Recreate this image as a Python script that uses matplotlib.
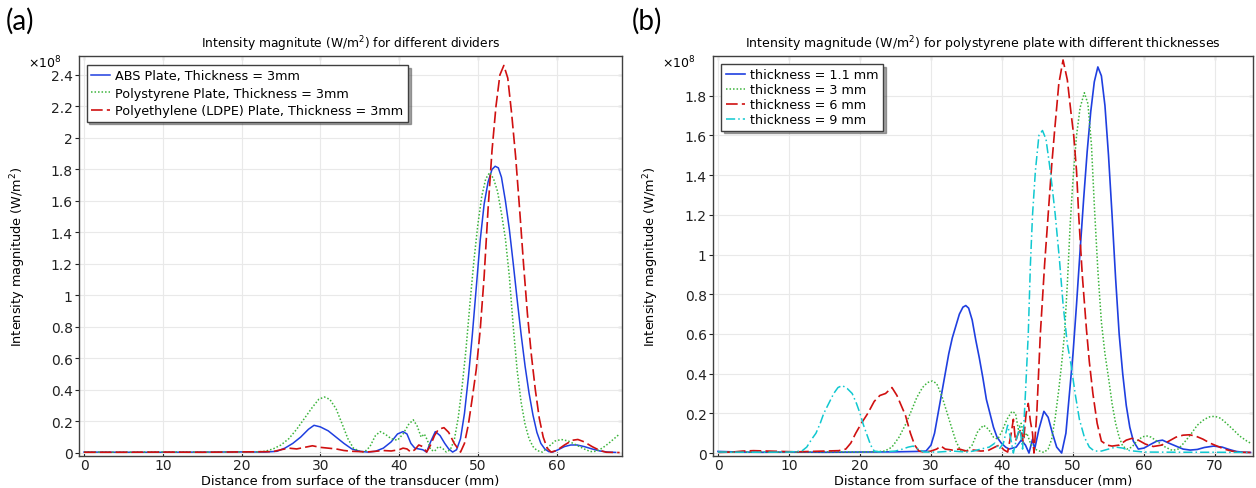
import matplotlib
matplotlib.use("Agg")
import matplotlib.pyplot as plt
from matplotlib.ticker import FormatStrFormatter

# ── Panel (a): different dividers, 3 mm plates (values in 1e8 W/m^2) ─────────
abs_x = [0, 5, 10, 15, 20, 23, 24.5, 25.5, 26.5, 27.5, 28.5, 29.2, 30, 31, 32, 33, 34, 35, 36, 37,
         38, 39, 39.8, 40.5, 41, 41.5, 42, 42.5, 43, 43.5, 44, 44.6, 45.2, 45.8, 46.3, 46.8, 47.3,
         47.8, 48.3, 48.8, 49.3, 49.8, 50.3, 50.8, 51.3, 51.8, 52.2, 52.6, 53.0, 53.5, 54.0, 54.5,
         55.0, 55.5, 56.0, 56.5, 57.0, 57.5, 58.0, 58.5, 59.0, 59.5, 60.2, 61.0, 61.8, 62.6, 63.5,
         64.5, 65.5, 66.5, 67.5]
abs_y = [0.005, 0.004, 0.004, 0.005, 0.006, 0.005, 0.01, 0.03, 0.06, 0.10, 0.15, 0.175, 0.165, 0.14,
         0.10, 0.06, 0.025, 0.01, 0.005, 0.01, 0.03, 0.07, 0.12, 0.135, 0.12, 0.06, 0.03, 0.025, 0.02,
         0.005, 0.07, 0.135, 0.11, 0.06, 0.025, 0.005, 0.02, 0.09, 0.25, 0.48, 0.75, 1.05, 1.35, 1.58,
         1.72, 1.80, 1.82, 1.81, 1.75, 1.6, 1.42, 1.2, 0.97, 0.75, 0.55, 0.38, 0.24, 0.13, 0.06, 0.025,
         0.008, 0.005, 0.02, 0.04, 0.05, 0.05, 0.04, 0.025, 0.012, 0.005, 0.003]

ps_x = [0, 5, 10, 15, 20, 22, 23, 24, 25, 26, 27, 28, 29, 29.8, 30.5, 31.2, 32, 32.8, 33.5, 34.2, 35,
        35.6, 36.3, 37, 37.6, 38.2, 39, 39.8, 40.5, 41.2, 41.8, 42.3, 42.8, 43.2, 43.6, 44, 44.5, 45,
        45.5, 46, 46.5, 47, 47.5, 48, 48.5, 49, 49.5, 50, 50.5, 51, 51.5, 52, 52.5, 53, 53.5, 54, 54.5,
        55, 55.5, 56, 56.5, 57, 57.5, 58.2, 59, 59.8, 60.6, 61.5, 62.5, 63.5, 64.3, 65, 65.8, 66.6,
        67.3, 68]
ps_y = [0.005, 0.004, 0.006, 0.005, 0.006, 0.006, 0.01, 0.025, 0.05, 0.09, 0.15, 0.22, 0.29, 0.34,
        0.355, 0.34, 0.28, 0.18, 0.09, 0.03, 0.01, 0.005, 0.04, 0.11, 0.135, 0.12, 0.09, 0.08, 0.12,
        0.18, 0.21, 0.17, 0.1, 0.12, 0.08, 0.02, 0.01, 0.04, 0.03, 0.005, 0.02, 0.08, 0.22, 0.42, 0.66,
        0.95, 1.22, 1.45, 1.63, 1.74, 1.78, 1.74, 1.66, 1.52, 1.36, 1.12, 0.8, 0.52, 0.32, 0.18, 0.09,
        0.04, 0.015, 0.005, 0.04, 0.075, 0.085, 0.075, 0.05, 0.025, 0.008, 0.01, 0.03, 0.06, 0.09,
        0.12]

pe_x = [0, 5, 10, 15, 20, 24, 25, 26, 27, 28, 29, 30, 31, 32, 33, 34, 35, 36, 37, 38, 39, 40, 40.5,
        41, 41.5, 42, 42.5, 43, 43.5, 44, 44.5, 45, 45.7, 46.3, 47, 47.8, 48.3, 48.8, 49.3, 49.8,
        50.3, 50.8, 51.3, 51.8, 52.3, 52.8, 53.3, 53.8, 54.3, 54.8, 55.3, 55.8, 56.3, 56.8, 57.3,
        57.8, 58.3, 58.8, 59.3, 60, 61, 62, 62.7, 63.5, 64.5, 65.5, 66.3, 67, 68]
pe_y = [0.004, 0.004, 0.005, 0.004, 0.006, 0.008, 0.02, 0.03, 0.025, 0.035, 0.045, 0.035, 0.03, 0.025,
        0.015, 0.01, 0.008, 0.006, 0.01, 0.015, 0.012, 0.02, 0.03, 0.025, 0.005, 0.02, 0.05, 0.04,
        0.005, 0.05, 0.11, 0.15, 0.16, 0.13, 0.06, 0.005, 0.06, 0.18, 0.35, 0.53, 0.78, 1.12, 1.55,
        1.92, 2.2, 2.4, 2.46, 2.38, 2.15, 1.88, 1.55, 1.2, 0.88, 0.62, 0.4, 0.22, 0.1, 0.03, 0.005,
        0.015, 0.05, 0.08, 0.085, 0.07, 0.04, 0.015, 0.004, 0.003, 0.002]

a_labels = ["ABS Plate, Thickness = 3mm",
            "Polystyrene Plate, Thickness = 3mm",
            "Polyethylene (LDPE) Plate, Thickness = 3mm"]
a_xticks = [0, 10, 20, 30, 40, 50, 60]
a_yticks = [0, 0.2, 0.4, 0.6, 0.8, 1, 1.2, 1.4, 1.6, 1.8, 2, 2.2, 2.4]

# ── Panel (b): polystyrene plate, different thicknesses ──────────────────────
t11_x = [0, 3, 6, 10, 15, 20, 25, 28, 29.3, 30, 30.5, 31, 31.5, 32, 32.5, 33, 33.5, 34, 34.5, 34.9,
         35.3, 35.8, 36.3, 36.8, 37.3, 37.8, 38.3, 38.8, 39.3, 39.9, 40.5, 41, 41.5, 42, 42.7, 43.3,
         43.8, 44.3, 44.6, 45.2, 45.9, 46.5, 47.1, 47.7, 48.4, 49, 49.5, 50, 50.5, 51, 51.5, 52,
         52.5, 53, 53.5, 54, 54.5, 55, 55.5, 56, 56.5, 57, 57.5, 58, 58.5, 59.2, 60, 61, 61.8, 62.6,
         63.5, 64.5, 65.5, 66.5, 67.5, 68.5, 69.8, 71, 72, 73, 74, 75]
t11_y = [0.008, 0.005, 0.004, 0.005, 0.004, 0.005, 0.006, 0.008, 0.01, 0.04, 0.1, 0.2, 0.3, 0.4, 0.5,
         0.58, 0.64, 0.7, 0.735, 0.743, 0.73, 0.67, 0.57, 0.48, 0.38, 0.27, 0.2, 0.13, 0.08, 0.05,
         0.03, 0.02, 0.025, 0.03, 0.065, 0.04, 0.0, 0.07, 0.02, 0.12, 0.21, 0.18, 0.1, 0.03, 0.0,
         0.1, 0.3, 0.5, 0.75, 1.02, 1.28, 1.52, 1.72, 1.87, 1.945, 1.9, 1.75, 1.5, 1.2, 0.88, 0.6,
         0.4, 0.24, 0.13, 0.06, 0.02, 0.025, 0.045, 0.06, 0.065, 0.05, 0.035, 0.02, 0.015, 0.018,
         0.028, 0.035, 0.03, 0.018, 0.008, 0.004, 0.003]

t3_x = [0, 3, 6, 10, 15, 20, 22, 23.5, 24.5, 25.5, 26.5, 27.2, 28, 28.8, 29.5, 30.2, 30.8, 31.5, 32.2,
        32.8, 33.5, 34.2, 35, 35.8, 36.6, 37.4, 38.1, 38.8, 39.4, 40, 40.7, 41.4, 41.9, 42.3, 42.7,
        43.1, 43.5, 44, 44.6, 45.3, 45.9, 46.5, 47, 47.5, 48, 48.4, 48.8, 49.2, 49.6, 50, 50.5, 51,
        51.6, 52.1, 52.6, 53, 53.5, 54, 54.5, 55, 55.5, 56, 56.5, 57, 57.6, 58.3, 59, 59.7, 60.3, 61,
        62, 63, 64, 64.8, 65.6, 66.5, 67.5, 68.5, 69.3, 70, 70.8, 71.6, 72.5, 73.5, 74.5, 75]
t3_y = [0.006, 0.004, 0.005, 0.004, 0.006, 0.005, 0.006, 0.01, 0.03, 0.08, 0.15, 0.21, 0.28, 0.33,
        0.355, 0.363, 0.35, 0.29, 0.21, 0.14, 0.06, 0.01, 0.01, 0.04, 0.11, 0.14, 0.12, 0.08, 0.07,
        0.11, 0.17, 0.21, 0.2, 0.12, 0.15, 0.08, 0.1, 0.05, 0.02, 0.01, 0.003, 0.02, 0.07, 0.18, 0.32,
        0.45, 0.6, 0.85, 1.15, 1.38, 1.6, 1.74, 1.815, 1.76, 1.55, 1.25, 0.92, 0.66, 0.5, 0.38, 0.25,
        0.15, 0.08, 0.035, 0.02, 0.03, 0.06, 0.08, 0.087, 0.08, 0.055, 0.03, 0.013, 0.02, 0.05, 0.09,
        0.14, 0.17, 0.183, 0.185, 0.175, 0.15, 0.12, 0.085, 0.06, 0.05]

t6_x = [0, 2, 3.5, 5, 7, 9, 11, 13, 15, 17, 18, 18.7, 19.4, 20.2, 21.1, 22, 22.8, 23.6, 24.5, 25.2,
        25.8, 26.4, 27.1, 27.7, 28.3, 29, 30, 30.8, 31.4, 32, 33, 34, 35, 36, 37, 38, 39, 39.6, 40.3,
        40.8, 41.3, 41.6, 41.9, 42.3, 42.7, 43, 43.4, 43.7, 44, 44.3, 44.5, 44.9, 45.4, 46, 46.5, 47,
        47.4, 48, 48.6, 49.2, 49.7, 50.1, 50.5, 50.8, 51.3, 51.9, 52.3, 52.8, 53.4, 54, 54.8, 55.5,
        56.5, 57.5, 58.3, 59.2, 60.2, 61.3, 62.5, 63.5, 64.5, 65.5, 66.4, 67.3, 68.3, 69.3, 70.3,
        71.3, 72.3, 73.5, 75]
t6_y = [0.003, 0.005, 0.01, 0.012, 0.01, 0.008, 0.006, 0.008, 0.01, 0.012, 0.02, 0.05, 0.1, 0.15, 0.2,
        0.26, 0.29, 0.3, 0.33, 0.29, 0.24, 0.19, 0.1, 0.04, 0.01, 0.005, 0.01, 0.02, 0.035, 0.02,
        0.015, 0.02, 0.01, 0.015, 0.01, 0.012, 0.03, 0.04, 0.015, 0.005, 0.1, 0.17, 0.06, 0.1, 0.12,
        0.05, 0.2, 0.25, 0.16, 0.1, 0.0, 0.2, 0.6, 0.95, 1.2, 1.45, 1.62, 1.86, 1.98, 1.88, 1.72, 1.6,
        1.42, 1.2, 0.9, 0.62, 0.46, 0.3, 0.15, 0.06, 0.04, 0.035, 0.04, 0.065, 0.074, 0.065, 0.045,
        0.033, 0.04, 0.06, 0.08, 0.09, 0.092, 0.085, 0.07, 0.05, 0.035, 0.02, 0.01, 0.004, 0.003]

t9_x = [0, 5, 10, 11.8, 12.5, 13.2, 13.8, 14.4, 14.9, 15.6, 16.3, 16.9, 17.5, 18.2, 18.9, 19.5, 20,
        20.5, 20.9, 21.5, 22, 23, 25, 26, 26.8, 27.5, 28.2, 29, 31, 33, 35, 36, 37, 38.2, 39, 39.6,
        40.2, 40.8, 41.3, 41.6, 42.1, 42.5, 42.9, 43.3, 43.7, 44.0, 44.3, 44.7, 45.2, 45.7, 46.2,
        46.7, 47.1, 47.5, 48.1, 48.6, 49.2, 49.7, 50.3, 50.9, 51.6, 52.3, 53, 54, 55, 56, 57, 58, 60,
        65, 70, 75]
t9_y = [0.005, 0.004, 0.005, 0.01, 0.03, 0.07, 0.1, 0.15, 0.2, 0.25, 0.3, 0.33, 0.34, 0.325, 0.3,
        0.25, 0.2, 0.14, 0.1, 0.04, 0.01, 0.005, 0.01, 0.02, 0.03, 0.035, 0.02, 0.005, 0.005, 0.01,
        0.005, 0.01, 0.02, 0.03, 0.05, 0.02, 0.05, 0.14, 0.06, 0.0, 0.08, 0.13, 0.02, 0.3, 0.6, 0.95,
        1.2, 1.42, 1.6, 1.625, 1.58, 1.45, 1.33, 1.2, 0.97, 0.75, 0.55, 0.45, 0.3, 0.17, 0.08, 0.03,
        0.01, 0.01, 0.02, 0.03, 0.025, 0.012, 0.005, 0.004, 0.004, 0.003]

b_labels = ["thickness = 1.1 mm", "thickness = 3 mm", "thickness = 6 mm", "thickness = 9 mm"]
b_xticks = [0, 10, 20, 30, 40, 50, 60, 70]
b_yticks = [0, 0.2, 0.4, 0.6, 0.8, 1, 1.2, 1.4, 1.6, 1.8]

BLUE = "#1f3fe0"
GREEN = "#3cb43c"
RED = "#d01010"
CYAN = "#10c8d0"
FRAME = "#404040"


def style_axes(ax, xticks, yticks, xlim, ylim, ylab_x):
    ax.set_xlim(*xlim)
    ax.set_ylim(*ylim)
    ax.set_xticks(xticks)
    ax.set_yticks(yticks)
    ax.yaxis.set_major_formatter(FormatStrFormatter("%g"))
    ax.grid(True, color="#e9e9e9", lw=0.8)
    ax.set_axisbelow(True)
    ax.tick_params(axis="y", labelsize=10, length=3, width=0.8, direction="out", pad=1.5,
                   colors="#222222")
    ax.tick_params(axis="x", labelsize=10, length=3, width=0.8, direction="in", pad=1.5,
                   colors="#222222")
    for sp in ax.spines.values():
        sp.set_color(FRAME)
        sp.set_linewidth(1.0)
    top = ax.secondary_xaxis("top")
    top.set_xticks(xticks)
    top.tick_params(direction="in", length=3, labeltop=False)
    top.spines["top"].set_visible(False)
    right = ax.secondary_yaxis("right")
    right.set_yticks(yticks)
    right.tick_params(direction="in", length=3, labelright=False)
    right.spines["right"].set_visible(False)
    ax.set_xlabel("Distance from surface of the transducer (mm)", fontsize=9.3)
    ax.xaxis.set_label_coords(0.5, -0.046)
    ax.set_ylabel("Intensity magnitude (W/m$^2$)", fontsize=9.3)
    ax.yaxis.set_label_coords(ylab_x, 0.5)


fig = plt.figure(figsize=(12.56, 4.89), dpi=100)
ax_a = fig.add_axes([0.0629, 0.0654, 0.4323, 0.818])
ax_b = fig.add_axes([0.5677, 0.0654, 0.4299, 0.818])

# panel (a)
ax_a.plot(abs_x, abs_y, color=BLUE, lw=1.1, label=a_labels[0])
ax_a.plot(ps_x, ps_y, color=GREEN, lw=1.1, linestyle=(0, (1, 1.3)), label=a_labels[1])
ax_a.plot(pe_x, pe_y, color=RED, lw=1.2, linestyle=(0, (7, 2.5)), label=a_labels[2])
style_axes(ax_a, a_xticks, a_yticks, (-0.64, 68.3), (-0.02, 2.52), -0.094)
ax_a.set_title("Intensity magnitute (W/m$^2$) for different dividers", fontsize=8.8, pad=6)
ax_a.legend(loc="upper left", bbox_to_anchor=(0.014, 0.978), fontsize=9.2, frameon=True,
            fancybox=False, shadow=True, edgecolor=FRAME, framealpha=1, handlelength=1.5,
            handletextpad=0.4, borderpad=0.35, labelspacing=0.35, borderaxespad=0)

# panel (b)
ax_b.plot(t11_x, t11_y, color=BLUE, lw=1.2, label=b_labels[0])
ax_b.plot(t3_x, t3_y, color=GREEN, lw=1.1, linestyle=(0, (1, 1.3)), label=b_labels[1])
ax_b.plot(t6_x, t6_y, color=RED, lw=1.2, linestyle=(0, (7, 2.5)), label=b_labels[2])
ax_b.plot(t9_x, t9_y, color=CYAN, lw=1.1, linestyle=(0, (6, 2, 1, 2)), label=b_labels[3])
style_axes(ax_b, b_xticks, b_yticks, (-0.7, 75.35), (-0.015, 2.0), -0.096)
ax_b.set_title("Intensity magnitude (W/m$^2$) for polystyrene plate with different thicknesses",
               fontsize=9, pad=6)
ax_b.legend(loc="upper left", bbox_to_anchor=(0.015, 0.98), fontsize=9.2, frameon=True,
            fancybox=False, shadow=True, edgecolor=FRAME, framealpha=1, handlelength=1.5,
            handletextpad=0.4, borderpad=0.35, labelspacing=0.15, borderaxespad=0)

# multiplier labels and panel tags
fig.text(28 / 1256, 1 - 63 / 489, r"$\times10^8$", fontsize=9, va="center", ha="left")
fig.text(662 / 1256, 1 - 63 / 489, r"$\times10^8$", fontsize=9, va="center", ha="left")
fig.text(6 / 1256, 1 - 21 / 489, "(a)", fontsize=20, va="center", ha="left", family="Lato")
fig.text(632 / 1256, 1 - 21 / 489, "(b)", fontsize=20, va="center", ha="left", family="Lato")

fig.savefig("out.png", dpi=100)
